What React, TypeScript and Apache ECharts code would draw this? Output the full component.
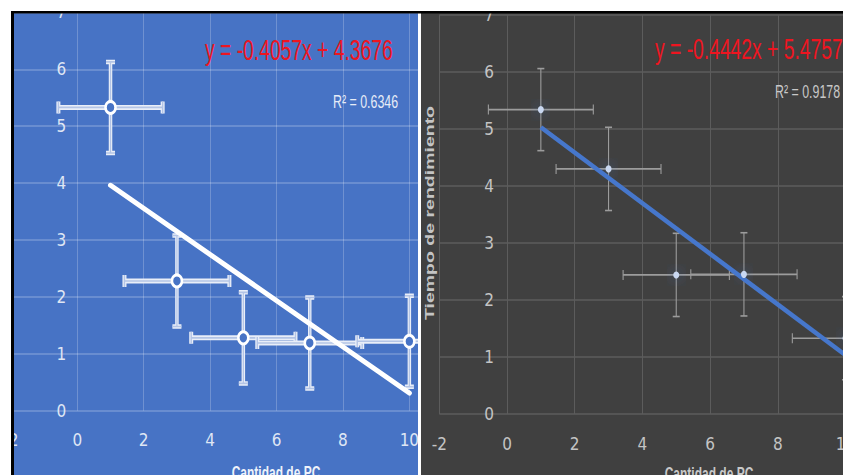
import React, { useEffect, useRef } from "react";
import * as echarts from "echarts";

// ---- values ----
const pcCount = [1, 3, 5, 7, 10];
const tiempoBlue = [5.33, 2.28, 1.28, 1.19, 1.22];
const errXBlue = [1.57, 1.58, 1.57, 1.58, 1.57];
const errYBlue = [0.8, 0.8, 0.8, 0.8, 0.8];
const tiempoDark = [5.34, 4.3, 2.44, 2.45, 1.33];
const errXDark = [1.55, 1.55, 1.57, 1.57, 1.57];
const errYDark = [0.72, 0.73, 0.73, 0.73, 0.73];
const slopeBlue = -0.4057;
const interceptBlue = 4.3676;
const r2Blue = 0.6346;
const slopeDark = -0.4442;
const interceptDark = 5.4757;
const r2Dark = 0.9178;
const xAxisTicks = [-2, 0, 2, 4, 6, 8, 10];
const yAxisTicks = [0, 1, 2, 3, 4, 5, 6, 7];
const xTitle = "Cantidad de PC";
const yTitle = "Tiempo de rendimiento";

const BLUE_BG = "#4773c5";
const DARK_BG = "#404040";
const axisFont = "'Liberation Sans Narrow', 'DejaVu Sans Condensed', 'Liberation Sans', sans-serif";
const textFont = "'Liberation Sans', Arial, sans-serif";

const xFirst = Math.min(...pcCount);
const xLast = Math.max(...pcCount);
const trendBlue = [xFirst, xLast].map((x) => [x, slopeBlue * x + interceptBlue]);
const trendDark = [xFirst, xLast].map((x) => [x, slopeDark * x + interceptDark]);

const eqText = (s: number, b: number) => `y = ${s.toFixed(4)}x + ${b.toFixed(4)}`;

function errorBars(kind: "blue" | "dark") {
  return (_params: any, api: any) => {
    const x = api.value(0);
    const y = api.value(1);
    const ex = api.value(2);
    const ey = api.value(3);
    const l = api.coord([x - ex, y]);
    const r = api.coord([x + ex, y]);
    const t = api.coord([x, y + ey]);
    const b = api.coord([x, y - ey]);
    const children: any[] = [];
    const seg = (x1: number, y1: number, x2: number, y2: number, stroke: string, lineWidth: number) =>
      children.push({ type: "line", shape: { x1, y1, x2, y2 }, style: { stroke, lineWidth, lineCap: "butt" } });
    if (kind === "blue") {
      const passes: [string, number, number, number, number][] = [
        ["#e9eef8", 5, 3.5, 4, 4.5],
        ["#b3c4e6", 1.6, 1.2, 1.4, 1.6],
      ];
      for (const [c, hw, vw, capVW, capHW] of passes) {
        seg(l[0], l[1], r[0], r[1], c, hw);
        seg(t[0], t[1], b[0], b[1], c, vw);
        seg(l[0], l[1] - 6, l[0], l[1] + 6, c, capVW);
        seg(r[0], r[1] - 6, r[0], r[1] + 6, c, capVW);
        seg(t[0] - 4.5, t[1], t[0] + 4.5, t[1], c, capHW);
        seg(b[0] - 4.5, b[1], b[0] + 4.5, b[1], c, capHW);
      }
    } else {
      const c = "#9c9c9c";
      seg(l[0], l[1], r[0], r[1], c, 1.6);
      seg(t[0], t[1], b[0], b[1], c, 1.1);
      seg(l[0], l[1] - 5, l[0], l[1] + 5, c, 1.1);
      seg(r[0], r[1] - 5, r[0], r[1] + 5, c, 1.1);
      seg(t[0] - 3.5, t[1], t[0] + 3.5, t[1], c, 1.6);
      seg(b[0] - 3.5, b[1], b[0] + 3.5, b[1], c, 1.6);
    }
    return { type: "group", children };
  };
}

function xAxisFor(gridIndex: number, max: number, labelColor: string, lineColor: string) {
  return {
    type: "value",
    gridIndex,
    min: xAxisTicks[0],
    max,
    interval: xAxisTicks[1] - xAxisTicks[0],
    axisLine: { show: false, onZero: false },
    axisTick: { show: false },
    axisLabel: {
      color: labelColor,
      fontSize: 17,
      fontFamily: axisFont,
      margin: 21,
      formatter: (v: number) => (xAxisTicks.includes(v) ? String(v) : ""),
    },
    splitLine: { show: true, lineStyle: { color: lineColor, width: 1 } },
  };
}

// offset moves the vertical axis (and its labels) to where x = 0 lies, as in the reference
function yAxisFor(gridIndex: number, labelColor: string, lineColor: string, margin: number, offset: number) {
  return {
    type: "value",
    gridIndex,
    min: yAxisTicks[0],
    max: yAxisTicks[yAxisTicks.length - 1],
    interval: yAxisTicks[1] - yAxisTicks[0],
    offset,
    axisLine: { show: false, onZero: false },
    axisTick: { show: false },
    axisLabel: { color: labelColor, fontSize: 17, fontFamily: axisFont, margin },
    splitLine: { show: true, lineStyle: { color: lineColor, width: 1.5 } },
  };
}

const txt = (opts: any) => ({
  type: "text",
  z: 50,
  ...opts,
  style: {
    textAlign: opts.style.align,
    textVerticalAlign: opts.style.verticalAlign,
    ...opts.style,
  },
});

const option: any = {
  animation: false,
  textStyle: { fontFamily: textFont },
  grid: [
    { left: 10.9, top: 12.4, width: 407.1, height: 398.3, containLabel: false, outerBoundsMode: "none" },
    { left: 439.3, top: 15, width: 423.1, height: 399, containLabel: false, outerBoundsMode: "none" },
  ],
  xAxis: [
    xAxisFor(0, 10.26, "#dfe6f4", "rgba(255,255,255,0.22)"),
    xAxisFor(1, 10.5, "#c4c4c4", "#5c5c5c"),
  ],
  yAxis: [
    yAxisFor(0, "#dfe6f4", "rgba(255,255,255,0.25)", 11, -66.4),
    yAxisFor(1, "#c4c4c4", "#5c5c5c", 13, -67.7),
  ],
  series: [
    {
      type: "custom",
      xAxisIndex: 0,
      yAxisIndex: 0,
      clip: true,
      z: 2,
      encode: { x: 0, y: 1 },
      renderItem: errorBars("blue"),
      data: pcCount.map((x, i) => [x, tiempoBlue[i], errXBlue[i], errYBlue[i]]),
    },
    {
      type: "line",
      xAxisIndex: 0,
      yAxisIndex: 0,
      z: 3,
      showSymbol: false,
      symbol: "none",
      lineStyle: { color: "#ffffff", width: 5, cap: "round" },
      data: trendBlue,
    },
    {
      type: "scatter",
      xAxisIndex: 0,
      yAxisIndex: 0,
      z: 4,
      symbol: "circle",
      symbolSize: [10, 12],
      itemStyle: { color: BLUE_BG, borderColor: "#ffffff", borderWidth: 2.8, opacity: 1 },
      data: pcCount.map((x, i) => [x, tiempoBlue[i]]),
    },
    {
      type: "custom",
      xAxisIndex: 1,
      yAxisIndex: 1,
      clip: true,
      z: 2,
      encode: { x: 0, y: 1 },
      renderItem: errorBars("dark"),
      data: pcCount.map((x, i) => [x, tiempoDark[i], errXDark[i], errYDark[i]]),
    },
    {
      type: "line",
      xAxisIndex: 1,
      yAxisIndex: 1,
      z: 3,
      showSymbol: false,
      symbol: "none",
      lineStyle: { color: "#4677cc", width: 4.5, cap: "butt" },
      data: trendDark,
    },
    {
      type: "scatter",
      xAxisIndex: 1,
      yAxisIndex: 1,
      z: 4,
      symbol: "circle",
      symbolSize: [6, 7],
      itemStyle: { color: "#c9d8f2", shadowBlur: 14, shadowColor: "rgba(68,114,196,1)", opacity: 1 },
      data: pcCount.map((x, i) => [x, tiempoDark[i]]),
    },
  ],
  graphic: {
    elements: [
      { type: "rect", z: -10, shape: { x: 14, y: 13, width: 404, height: 462 }, style: { fill: BLUE_BG } },
      { type: "rect", z: -10, shape: { x: 421, y: 13, width: 422, height: 462 }, style: { fill: DARK_BG } },
      txt({
        x: 205,
        y: 49.5,
        scaleY: 1.5,
        style: { text: eqText(slopeBlue, interceptBlue), fill: "#ee1520", font: `19.3px ${textFont}`, align: "left", verticalAlign: "middle" },
      }),
      txt({
        x: 655,
        y: 49,
        scaleY: 1.5,
        style: { text: eqText(slopeDark, interceptDark), fill: "#ee1520", font: `19.3px ${textFont}`, align: "left", verticalAlign: "middle" },
      }),
      txt({
        x: 333,
        y: 101.5,
        scaleY: 1.5,
        style: { text: `R² = ${r2Blue}`, fill: "#e6ecf7", font: `12.4px ${textFont}`, align: "left", verticalAlign: "middle" },
      }),
      txt({
        x: 775,
        y: 91.5,
        scaleY: 1.5,
        style: { text: `R² = ${r2Dark}`, fill: "#c8c8c8", font: `12.4px ${textFont}`, align: "left", verticalAlign: "middle" },
      }),
      txt({
        x: 430,
        y: 213,
        rotation: Math.PI / 2,
        scaleX: 1.5,
        style: { text: yTitle, fill: "#c4c4c4", font: `bold 13px ${textFont}`, align: "center", verticalAlign: "middle" },
      }),
      txt({
        x: 276,
        y: 464,
        scaleY: 1.5,
        style: { text: xTitle, fill: "#eef2fa", font: `bold 12px ${textFont}`, align: "center", verticalAlign: "top" },
      }),
      txt({
        x: 709,
        y: 465,
        scaleY: 1.5,
        style: { text: xTitle, fill: "#c8c8c8", font: `bold 12px ${textFont}`, align: "center", verticalAlign: "top" },
      }),
      // frame: white margins, gap and black borders on top
      { type: "rect", z: 100, shape: { x: 0, y: 0, width: 843, height: 11 }, style: { fill: "#ffffff" } },
      { type: "rect", z: 100, shape: { x: 0, y: 0, width: 11, height: 475 }, style: { fill: "#ffffff" } },
      { type: "rect", z: 100, shape: { x: 418, y: 0, width: 3, height: 475 }, style: { fill: "#ffffff" } },
      { type: "rect", z: 101, shape: { x: 11, y: 11, width: 832, height: 2.4 }, style: { fill: "#000000" } },
      { type: "rect", z: 101, shape: { x: 11, y: 11, width: 3, height: 464 }, style: { fill: "#000000" } },
    ],
  },
};

export default function App() {
  const ref = useRef<HTMLDivElement>(null);
  useEffect(() => {
    document.body.style.margin = "0";
    if (!ref.current) return;
    const chart = echarts.init(ref.current, null, { renderer: "svg", width: 843, height: 475 });
    chart.setOption(option);
    return () => chart.dispose();
  }, []);
  return <div ref={ref} style={{ width: 843, height: 475, position: "absolute", left: 0, top: 0 }} />;
}
